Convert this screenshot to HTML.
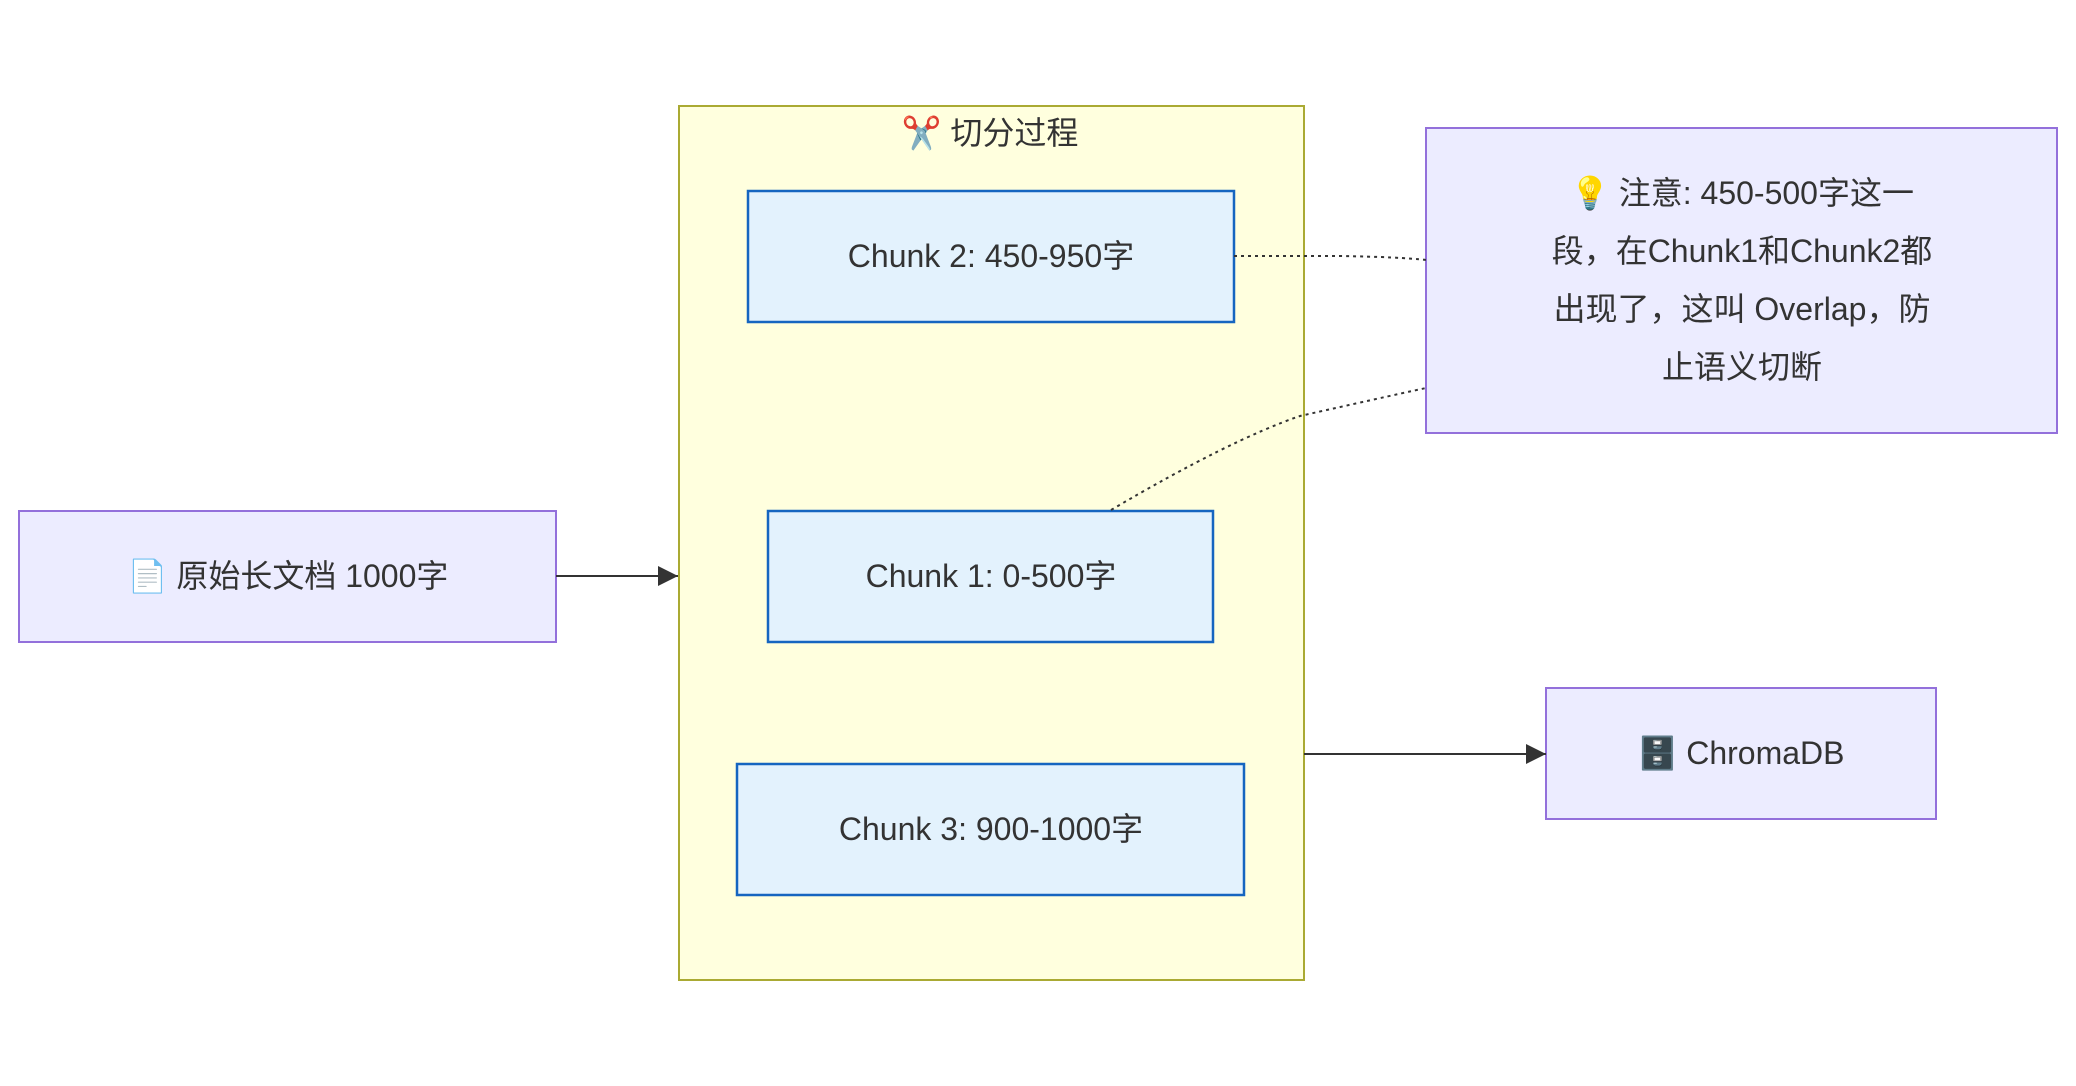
<!DOCTYPE html>
<html><head><meta charset="utf-8"><style>
html,body{margin:0;padding:0;background:#fff;width:2076px;height:1086px;overflow:hidden}
text{font-family:"Liberation Sans","Noto Sans CJK SC",sans-serif;fill:#333;font-size:32px}
</style></head><body>
<svg width="2076" height="1086" viewBox="0 0 2076 1086" xmlns="http://www.w3.org/2000/svg">
<defs><marker id="a" viewBox="0 0 10 10" refX="10" refY="5" markerWidth="10" markerHeight="10" markerUnits="userSpaceOnUse" orient="auto"><path d="M0,0L10,5L0,10z" fill="#333"/></marker>
<marker id="b" viewBox="0 0 10 10" refX="10" refY="5" markerWidth="20" markerHeight="20" markerUnits="userSpaceOnUse" orient="auto"><path d="M0,0L10,5L0,10z" fill="#333"/></marker></defs>
<rect x="679" y="106" width="625" height="874" fill="#ffffde" stroke="#aaaa33" stroke-width="2"/>
<text x="990" y="144" text-anchor="middle">✂️ 切分过程</text>
<rect x="748" y="191" width="486" height="131" fill="#e3f2fd" stroke="#1565c0" stroke-width="2.5"/>
<text x="991" y="267" text-anchor="middle">Chunk 2: 450-950字</text>
<rect x="768" y="511" width="445" height="131" fill="#e3f2fd" stroke="#1565c0" stroke-width="2.5"/>
<text x="991" y="587" text-anchor="middle">Chunk 1: 0-500字</text>
<rect x="737" y="764" width="507" height="131" fill="#e3f2fd" stroke="#1565c0" stroke-width="2.5"/>
<text x="991" y="840" text-anchor="middle">Chunk 3: 900-1000字</text>
<rect x="19" y="511" width="537" height="131" fill="#ececff" stroke="#9370db" stroke-width="2"/>
<text x="288" y="587" text-anchor="middle">📄 原始长文档 1000字</text>
<rect x="1426" y="128" width="631" height="305" fill="#ececff" stroke="#9370db" stroke-width="2"/>
<text text-anchor="middle" x="1742"><tspan x="1742" y="204">💡 注意: 450-500字这一</tspan><tspan x="1742" y="262">段，在Chunk1和Chunk2都</tspan><tspan x="1742" y="320">出现了，这叫 Overlap，防</tspan><tspan x="1742" y="378">止语义切断</tspan></text>
<rect x="1546" y="688" width="390" height="131" fill="#ececff" stroke="#9370db" stroke-width="2"/>
<text x="1741" y="764" text-anchor="middle">🗄️ ChromaDB</text>
<line x1="556" y1="576" x2="678" y2="576" stroke="#333" stroke-width="2" marker-end="url(#b)"/>
<line x1="1304" y1="754" x2="1546" y2="754" stroke="#333" stroke-width="2" marker-end="url(#b)"/>
<path d="M1234,256 L1340,256 Q1400,257 1426,260" fill="none" stroke="#333" stroke-width="2" stroke-dasharray="3,4"/>
<path d="M1111,510 Q1230,440 1300,416 Q1380,398 1426,388" fill="none" stroke="#333" stroke-width="2" stroke-dasharray="3,4"/>
</svg>
</body></html>
